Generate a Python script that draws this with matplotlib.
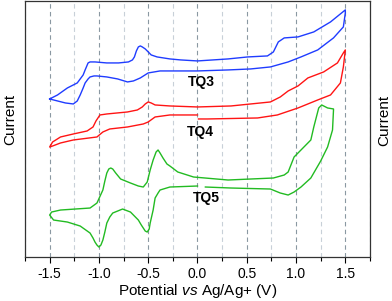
import matplotlib
matplotlib.use("Agg")
import matplotlib.pyplot as plt
from matplotlib.ticker import MultipleLocator

plt.rcParams['font.family'] = ['Liberation Sans', 'DejaVu Sans']
plt.rcParams['mathtext.fontset'] = 'custom'
plt.rcParams['mathtext.rm'] = 'Liberation Sans'
plt.rcParams['mathtext.it'] = 'Liberation Sans:italic'

# TQ3 (blue): lower branch left->right, then upper branch back
v_tq3 = [-1.50, -1.42, -1.34, -1.26, -1.22, -1.19, -1.16, -1.14, -1.11, -1.09, -1.05, -1.02, -0.92, -0.81,
         -0.71, -0.65, -0.58, -0.50, -0.44, -0.38, -0.28, 0.00, 0.31, 0.54, 0.74, 0.92, 1.05, 1.22, 1.38,
         1.48, 1.50,
         1.50, 1.35, 1.18, 1.02, 0.88, 0.82, 0.77, 0.71, 0.51, 0.31, 0.00, -0.17, -0.28, -0.41, -0.47,
         -0.50, -0.53, -0.56, -0.58, -0.60, -0.62, -0.64, -0.66, -0.70, -0.80, -0.92, -1.04, -1.09,
         -1.11, -1.14, -1.16, -1.22, -1.32, -1.42, -1.50]
i_tq3 = [158, 156, 154, 153, 156, 162, 169, 174, 178, 180, 181, 181, 180, 178,
         175, 176, 179, 184, 185, 186, 186, 186, 187, 188, 190, 195, 200, 207, 219,
         230, 244,
         247, 235, 225, 220, 219, 215, 205, 201, 200, 198, 196, 197, 198, 200, 202,
         205, 208, 210, 211, 210, 206, 200, 197, 195, 194, 194, 195, 195,
         194, 187, 182, 174, 169, 162, 158]

# TQ4 (red): starts at 0 V, goes positive, back to -1.5, returns to 0 V
v_tq4 = [0.01, 0.10, 0.61, 0.81, 1.02, 1.22, 1.35, 1.45, 1.48, 1.50,
         1.48, 1.42, 1.28, 1.12, 1.02, 0.92, 0.84, 0.74, 0.34, 0.00, -0.28, -0.43, -0.47, -0.50,
         -0.53, -0.56, -0.61, -0.71, -0.92, -0.99, -1.03, -1.06, -1.12, -1.26, -1.39, -1.47, -1.50,
         -1.47, -1.39, -1.26, -1.02, -0.96, -0.89, -0.71, -0.55, -0.50, -0.43, -0.28, 0.00]
i_tq4 = [138, 138, 139, 142, 149, 157, 162, 174, 190, 207,
         204, 194, 185, 179, 171, 166, 160, 155, 151, 150, 151, 152, 154, 155,
         153, 150, 147, 145, 143, 142, 136, 130, 126, 123, 120, 115, 110,
         111, 114, 117, 120, 125, 128, 130, 133, 135, 140, 142, 142]

# TQ5 (green)
v_tq5 = [0.08, 0.34, 0.74, 0.84, 0.92, 0.98, 1.05, 1.15, 1.25, 1.32, 1.37, 1.38,
         1.38, 1.32, 1.26, 1.23, 1.18, 1.15, 1.05, 0.98, 0.92, 0.88, 0.77, 0.31, -0.04, -0.20,
         -0.28, -0.31, -0.35, -0.38, -0.40, -0.42, -0.45, -0.48, -0.51, -0.55, -0.60, -0.68, -0.78,
         -0.83, -0.86, -0.88, -0.90, -0.92, -0.94, -0.96, -1.02, -1.09, -1.39, -1.48, -1.50,
         -1.46, -1.32, -1.19, -1.09, -1.06, -1.04, -1.02, -1.00, -0.98, -0.96, -0.94, -0.92, -0.89,
         -0.86, -0.76, -0.68, -0.60, -0.57, -0.55, -0.53, -0.51, -0.49, -0.48, -0.45, -0.43, -0.40,
         -0.38, -0.28, 0.00]
i_tq5 = [70, 69, 68, 64, 62, 65, 70, 79, 96, 110, 127, 147,
         148, 149, 152, 149, 130, 117, 107, 100, 85, 82, 79, 77, 80, 85,
         91, 93, 99, 104, 107, 105, 97, 87, 75, 70, 71, 74, 78,
         84, 88, 89, 88, 84, 76, 67, 54, 49, 47, 45, 42,
         37, 35, 31, 24, 19, 15, 12, 10, 12, 17, 25, 34, 40,
         44, 48, 45, 37, 32, 29, 26, 25, 28, 34, 47, 59, 64,
         67, 70, 71]

labels = ["TQ3", "TQ4", "TQ5"]
label_pos = [(0.04, 175), (0.03, 125), (0.09, 59)]

fig = plt.figure(figsize=(3.92, 3.01), dpi=100)
ax = fig.add_axes([0.0638, 0.146, 0.880, 0.851])

ax.plot(v_tq3, i_tq3, color='#1f3cff', lw=1.0)
ax.plot(v_tq4, i_tq4, color='#ff1414', lw=1.0)
ax.plot(v_tq5, i_tq5, color='#22bb22', lw=1.0)

for lab, (x, y) in zip(labels, label_pos):
    ax.text(x, y, lab, fontsize=10, fontweight='bold', ha='center', va='center')

ax.set_xlim(-1.75, 1.75)
ax.set_ylim(0, 256)
ax.xaxis.set_minor_locator(MultipleLocator(0.25))
ax.set_xticks([-1.5, -1.0, -0.5, 0.0, 0.5, 1.0, 1.5])
ax.set_xticklabels(["-1.5", "-1.0", "-0.5", "0.0", "0.5", "1.0", "1.5"])
ax.set_yticks([])
ax.tick_params(axis='x', which='major', direction='out', length=4, width=0.8, labelsize=10, pad=3)
ax.tick_params(axis='x', which='minor', direction='out', length=3, width=0.8)
ax.grid(axis='x', which='major', color='#8a98a2', linestyle=(0, (4, 3)), lw=0.8)
ax.grid(axis='x', which='minor', color='#c8d0d8', linestyle=(0, (4, 3)), lw=0.8)
ax.set_axisbelow(True)
for s in ax.spines.values():
    s.set_color('#333333')
    s.set_linewidth(0.9)

ax.set_xlabel('Potential $\\mathit{vs}$ Ag/Ag+ (V)', fontsize=11, labelpad=1)
fig.text(10 / 392, 1 - 119 / 301, 'Current', rotation=90, fontsize=11, ha='center', va='center')
fig.text(384 / 392, 1 - 120 / 301, 'Current', rotation=90, fontsize=11, ha='center', va='center')

fig.savefig('out.png', dpi=100)
